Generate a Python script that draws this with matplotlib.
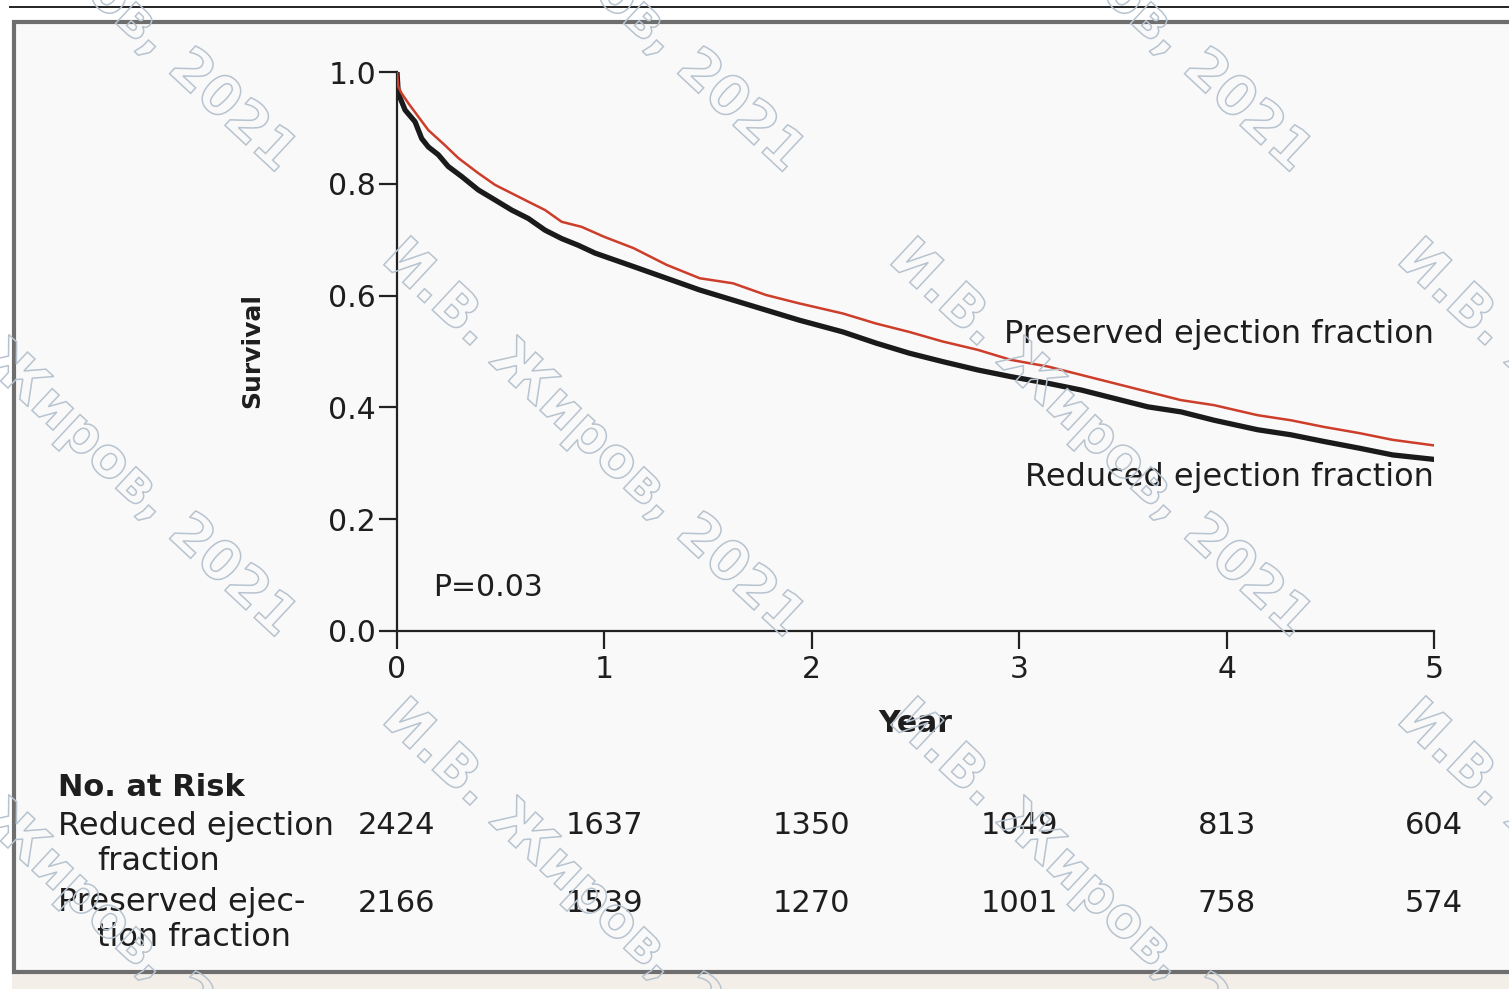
import matplotlib
matplotlib.use("Agg")
import matplotlib.pyplot as plt
import matplotlib.transforms as mtransforms
from matplotlib.patches import Rectangle, PathPatch
from matplotlib.textpath import TextPath
from matplotlib.font_manager import FontProperties

# ── Kaplan-Meier curves (years, survival) ───────────────────────────────────
reduced_t = [0, 0.006, 0.039, 0.087, 0.119, 0.151, 0.199, 0.247, 0.312, 0.392,
             0.473, 0.553, 0.633, 0.714, 0.794, 0.874, 0.955, 1.14, 1.30, 1.46,
             1.62, 1.78, 1.94, 2.15, 2.31, 2.47, 2.63, 2.80, 2.96, 3.14,
             3.30, 3.46, 3.62, 3.78, 3.94, 4.15, 4.31, 4.47, 4.64, 4.80, 5.0]
reduced_s = [1.0, 0.962, 0.932, 0.911, 0.881, 0.866, 0.852, 0.831, 0.813, 0.789,
             0.771, 0.753, 0.738, 0.717, 0.702, 0.690, 0.676, 0.652, 0.631, 0.610,
             0.592, 0.574, 0.556, 0.535, 0.515, 0.497, 0.482, 0.467, 0.455, 0.443,
             0.431, 0.416, 0.401, 0.392, 0.377, 0.360, 0.351, 0.339, 0.327, 0.315, 0.307]

preserved_t = [0, 0.006, 0.022, 0.055, 0.103, 0.151, 0.231, 0.296, 0.392, 0.473,
               0.553, 0.633, 0.714, 0.794, 0.890, 1.0, 1.14, 1.30, 1.46, 1.62,
               1.78, 1.94, 2.15, 2.31, 2.47, 2.63, 2.80, 2.96, 3.14, 3.30,
               3.46, 3.62, 3.78, 3.94, 4.15, 4.31, 4.47, 4.64, 4.80, 5.0]
preserved_s = [1.0, 0.974, 0.962, 0.944, 0.920, 0.896, 0.869, 0.846, 0.819, 0.798,
               0.783, 0.768, 0.753, 0.732, 0.723, 0.705, 0.685, 0.655, 0.631, 0.622,
               0.601, 0.586, 0.568, 0.550, 0.535, 0.518, 0.503, 0.485, 0.473, 0.458,
               0.443, 0.428, 0.413, 0.404, 0.386, 0.377, 0.365, 0.354, 0.342, 0.332]

# ── Numbers at risk ──────────────────────────────────────────────────────────
risk_years = [0, 1, 2, 3, 4, 5]
risk_reduced = [2424, 1637, 1350, 1049, 813, 604]
risk_preserved = [2166, 1539, 1270, 1001, 758, 574]

x_ticks = [0, 1, 2, 3, 4, 5]
y_ticks = [0.0, 0.2, 0.4, 0.6, 0.8, 1.0]

W, H = 1509, 989
plt.rcParams['font.family'] = ['DejaVu Sans']
TXT = '#1e1e1e'

fig = plt.figure(figsize=(W / 100, H / 100), dpi=100)
fig.patch.set_facecolor('white')


def fx(x):
    return x / W


def fy(y):
    return 1 - y / H


# ── Page frame ──────────────────────────────────────────────────────────────
fig.add_artist(Rectangle((fx(12), fy(989)), fx(W), 17 / H, transform=fig.transFigure,
                         facecolor='#f3efe8', edgecolor='none', zorder=0))
fig.add_artist(Rectangle((fx(14), fy(972)), fx(W + 10), (972 - 22) / H, transform=fig.transFigure,
                         facecolor='#f9f9f9', edgecolor='#6e6e6e', lw=3.0, zorder=0))
fig.add_artist(plt.Line2D([fx(10), 1], [fy(7), fy(7)], transform=fig.transFigure,
                          color='#222222', lw=1.4, zorder=1))

# ── Survival plot ────────────────────────────────────────────────────────────
ax = fig.add_axes([fx(397), fy(631), (1434 - 397) / W, (631 - 72) / H])
ax.patch.set_alpha(0)
ax.plot(preserved_t, preserved_s, color='#cc3d2a', lw=1.8, zorder=3)
ax.plot(reduced_t, reduced_s, color='#1a1a1a', lw=3.8, zorder=2)

ax.set_xlim(0, 5)
ax.set_ylim(0, 1)
for s in ['top', 'right']:
    ax.spines[s].set_visible(False)
for s in ['left', 'bottom']:
    ax.spines[s].set_linewidth(1.6)
    ax.spines[s].set_color('#222222')
    ax.spines[s].set_clip_on(False)
ax.set_xticks(x_ticks)
ax.set_xticklabels([str(v) for v in x_ticks])
ax.set_yticks(y_ticks)
ax.set_yticklabels([f"{v:.1f}" for v in y_ticks])
ax.tick_params(axis='both', direction='out', length=13, width=1.6, color='#222222',
               labelsize=21.5, labelcolor=TXT)
ax.tick_params(axis='y', pad=2)
ax.tick_params(axis='x', pad=4)

ax.text(0.174, 0.077, "P=0.03", fontsize=21.5, color=TXT, ha='left', va='center')
ax.text(5.0, 0.531, "Preserved ejection fraction", fontsize=23, color=TXT,
        ha='right', va='center')
ax.text(5.0, 0.275, "Reduced ejection fraction", fontsize=23, color=TXT,
        ha='right', va='center')

fig.text(fx(252), fy(350), "Survival", rotation=90, fontsize=18, fontweight='bold',
         color=TXT, ha='center', va='center')
fig.text(fx(915), fy(723), "Year", fontsize=21.5, fontweight='bold', color=TXT,
         ha='center', va='center')

# ── No. at risk table ────────────────────────────────────────────────────────
fig.text(fx(58), fy(787), "No. at Risk", fontsize=22, fontweight='bold', color=TXT,
         ha='left', va='center')
fig.text(fx(58), fy(826), "Reduced ejection", fontsize=23, color=TXT, ha='left', va='center')
fig.text(fx(97), fy(862), "fraction", fontsize=23, color=TXT, ha='left', va='center')
fig.text(fx(58), fy(903), "Preserved ejec-", fontsize=23, color=TXT, ha='left', va='center')
fig.text(fx(97), fy(938), "tion fraction", fontsize=23, color=TXT, ha='left', va='center')

blend = mtransforms.blended_transform_factory(ax.transData, fig.transFigure)
for yr, a, b in zip(risk_years, risk_reduced, risk_preserved):
    fig.text(yr, fy(826), str(a), transform=blend, fontsize=22, color=TXT,
             ha='center', va='center')
    fig.text(yr, fy(903), str(b), transform=blend, fontsize=22, color=TXT,
             ha='center', va='center')

# ── Watermark (outlined, diagonal) ───────────────────────────────────────────
wm_text = "И.В. Жиров, 2021"
wm_path = TextPath((0, 0), wm_text, size=50,
                   prop=FontProperties(family='DejaVu Sans', weight='bold'))
bb = wm_path.get_extents()
k = 545 / bb.width
for cy in [-25, 440, 900]:
    for cx in [85, 593, 1100, 1608]:
        tr = (mtransforms.Affine2D()
              .translate(-(bb.x0 + bb.width / 2), -(bb.y0 + bb.height / 2))
              .scale(k).rotate_deg(-43).translate(cx, H - cy))
        fig.add_artist(PathPatch(wm_path, transform=tr, fill=False,
                                 edgecolor='#b7c3cf', lw=1.1, zorder=20))

fig.savefig('out.png', dpi=100, facecolor=fig.get_facecolor())
